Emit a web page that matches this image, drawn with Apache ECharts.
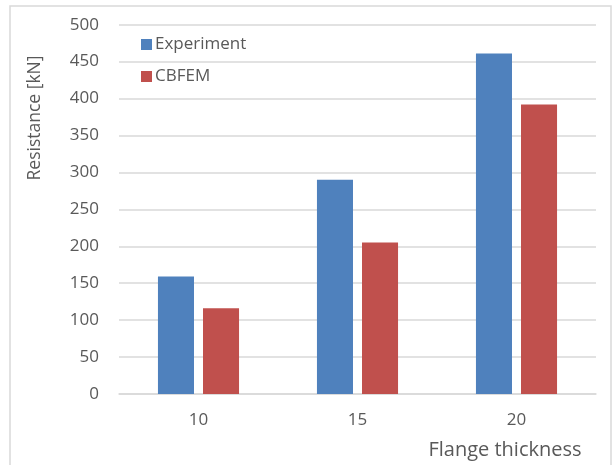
<!DOCTYPE html>
<html>
<head>
<meta charset="utf-8">
<script src="https://cdn.jsdelivr.net/npm/echarts@6/dist/echarts.min.js"></script>
<style>
html,body{margin:0;padding:0;background:#fff;}
#chart{width:615px;height:465px;}
</style>
</head>
<body>
<div id="chart"></div>
<script>
const categories = ['10', '15', '20'];
const experiment = [159, 290, 461];
const cbfem = [116, 205, 392];
const yTicks = [0, 500, 50];
const xTitle = 'Flange thickness';
const yTitle = 'Resistance [kN]';

const FONT = 'Open Sans';
const chart = echarts.init(document.getElementById('chart'), null, {renderer: 'canvas'});
chart.setOption({
  animation: false,
  backgroundColor: '#fff',
  textStyle: {fontFamily: FONT},
  grid: {left: 119, right: 19, top: 24.7, bottom: 71, containLabel: false},
  legend: {
    orient: 'vertical', left: 136, top: 31,
    itemWidth: 11, itemHeight: 11, itemGap: 15,
    icon: 'rect',
    textStyle: {fontFamily: FONT, fontSize: 17, color: '#595959', padding: [0, 0, 0, -2]},
    data: ['Experiment', 'CBFEM']
  },
  xAxis: {
    type: 'category', data: categories,
    axisLine: {show: true, lineStyle: {color: '#d9d9d9', width: 1.5}},
    axisTick: {show: false},
    axisLabel: {fontFamily: FONT, fontSize: 17, color: '#595959', margin: 18}
  },
  yAxis: {
    type: 'value', min: yTicks[0], max: yTicks[1], interval: yTicks[2],
    axisLine: {show: false}, axisTick: {show: false},
    splitLine: {lineStyle: {color: '#d9d9d9', width: 1.5}},
    axisLabel: {fontFamily: FONT, fontSize: 17, color: '#595959', margin: 20}
  },
  series: [
    {name: 'Experiment', type: 'bar', data: experiment, barGap: '25%', barCategoryGap: '49%',
     itemStyle: {color: '#4f81bd'}},
    {name: 'CBFEM', type: 'bar', data: cbfem, barGap: '25%', barCategoryGap: '49%',
     itemStyle: {color: '#c0504d'}}
  ],
  graphic: [
    {type: 'rect', shape: {x: 10, y: 6, width: 601, height: 470}, style: {fill: 'none', stroke: '#d9d9d9', lineWidth: 1.5}, silent: true},
    {type: 'text', x: 35, y: 118, rotation: Math.PI / 2, originX: 0, originY: 0,
     style: {text: yTitle, font: '17.5px "Open Sans"', fill: '#595959', align: 'center', verticalAlign: 'middle', x: 0, y: 0}},
    {type: 'text', x: 505, y: 450,
     style: {text: xTitle, font: '20px "Open Sans"', fill: '#595959', align: 'center', verticalAlign: 'middle'}}
  ]
});
</script>
</body>
</html>
